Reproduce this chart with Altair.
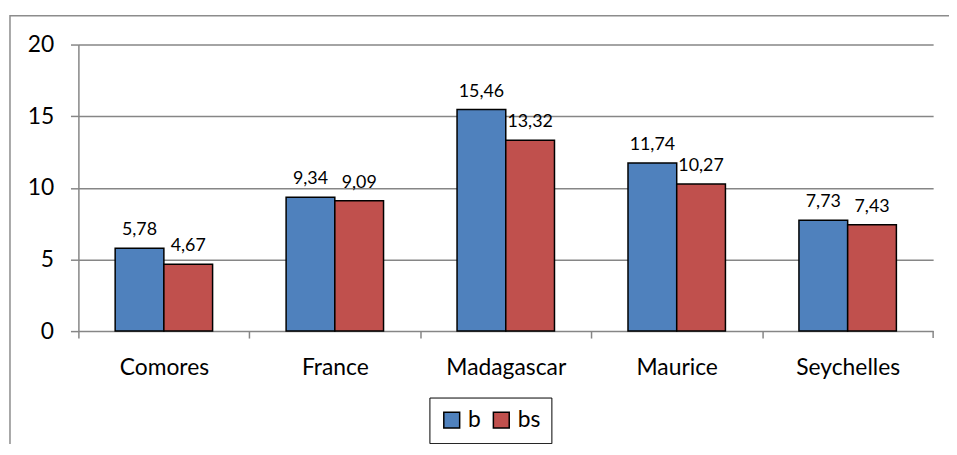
import altair as alt
import pandas as pd

countries = ["Comores", "France", "Madagascar", "Maurice", "Seychelles"]
series = ["b", "bs"]
b_values = [5.78, 9.34, 15.46, 11.74, 7.73]
bs_values = [4.67, 9.09, 13.32, 10.27, 7.43]
colors = ["#4F81BD", "#C0504D"]

rows = []
for c, v1, v2 in zip(countries, b_values, bs_values):
    for s, v in zip(series, [v1, v2]):
        rows.append({"pays": c, "serie": s, "valeur": v,
                     "label": f"{v:.2f}".replace(".", ",")})
df = pd.DataFrame(rows)

W, H = 862, 289
FONT = "Lato"
STEP = W / len(countries)

x_enc = alt.X("pays:N", sort=countries, title=None,
              scale=alt.Scale(paddingInner=0.43, paddingOuter=0.215),
              axis=alt.Axis(labelAngle=0, labelFontSize=23, labelColor="#000",
                            labelFont=FONT, labelPadding=19,
                            domain=False, ticks=True, tickColor="#868686",
                            tickSize=7, tickWidth=1.5, tickOffset=-STEP / 2,
                            labelOffset=STEP / 2, grid=False))
y_enc = alt.Y("valeur:Q", title=None,
              scale=alt.Scale(domain=[0, 20], nice=False),
              axis=alt.Axis(values=[0, 5, 10, 15, 20], labelFontSize=23,
                            labelFont=FONT, labelColor="#000", labelPadding=17,
                            domainColor="#868686", domainWidth=1.5,
                            tickColor="#868686", tickSize=8, tickWidth=1.5,
                            gridColor="#868686", gridWidth=1.5))

base = alt.Chart(df)

bars = base.mark_bar(stroke="black", strokeWidth=1.5).encode(
    x=x_enc,
    xOffset=alt.XOffset("serie:N", sort=series,
                        scale=alt.Scale(paddingInner=0, paddingOuter=0)),
    y=y_enc,
    color=alt.Color("serie:N", sort=series,
                    scale=alt.Scale(domain=series, range=colors),
                    legend=alt.Legend(title=None, orient="none",
                                      legendX=354, legendY=356,
                                      direction="horizontal",
                                      strokeColor="black", padding=11,
                                      symbolType="square", symbolSize=256,
                                      symbolStrokeColor="black",
                                      symbolStrokeWidth=1.5,
                                      labelFontSize=23, labelFont=FONT,
                                      labelColor="#000", columnPadding=9,
                                      labelOffset=5)),
)

labels = base.mark_text(baseline="bottom", dy=-9, fontSize=18, font=FONT,
                        color="#000").encode(
    x=alt.X("pays:N", sort=countries),
    xOffset=alt.XOffset("serie:N", sort=series),
    y="valeur:Q",
    text="label:N",
)

last_tick = alt.Chart(pd.DataFrame({"k": [0]})).mark_rule(
    color="#868686", strokeWidth=1.5).encode(
    x=alt.value(W), y=alt.value(H), y2=alt.value(H + 7))

frame = alt.Chart(pd.DataFrame({"k": [0]})).mark_rect(
    fill=None, stroke="#8c8c8c", strokeWidth=1.5).encode(
    x=alt.value(-69), y=alt.value(-29), x2=alt.value(W + 60),
    y2=alt.value(H + 200))

chart = alt.layer(frame, bars, labels, last_tick).properties(
    width=W, height=H,
    autosize=alt.AutoSizeParams(type="none"),
    padding={"left": 71, "top": 35, "right": 16, "bottom": 112},
).configure_view(stroke=None)

chart.save("out.html", embed_options={"renderer": "svg", "actions": False})
